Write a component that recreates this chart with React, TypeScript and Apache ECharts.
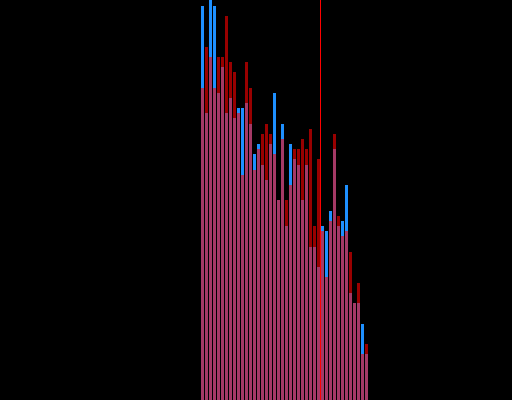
import React, { useEffect, useRef } from "react";
import * as echarts from "echarts";

const categories: string[] = Array.from({ length: 42 }, (_, i) => String(i + 1));

const blueValues: number[] = [
  394, 287, 400, 394, 307, 333, 287, 302, 282, 292, 292, 297, 276, 246,
  256, 235, 220, 256, 307, 200, 276, 174, 256, 241, 235, 200, 235, 153,
  153, 133, 174, 169, 189, 251, 174, 179, 215, 107, 97, 97, 76, 46,
];

const redValues: number[] = [
  312, 353, 343, 312, 343, 343, 384, 338, 328, 287, 225, 338, 312, 230,
  251, 266, 276, 266, 246, 200, 261, 200, 215, 251, 251, 261, 251, 271,
  174, 241, 169, 123, 179, 266, 184, 164, 169, 148, 97, 117, 46, 56,
];

const markerPosition = 30;
const yMax = 400;

export default function App() {
  const ref = useRef<HTMLDivElement>(null);
  useEffect(() => {
    if (!ref.current) return;
    const chart = echarts.init(ref.current, undefined, { renderer: "svg" });
    chart.setOption({
      animation: false,
      backgroundColor: "#000000",
      grid: { left: 200.5, width: 168, top: 0, bottom: 0 },
      xAxis: [
        {
          type: "category",
          data: categories,
          show: false,
          boundaryGap: true,
        },
        {
          type: "value",
          min: 0,
          max: categories.length,
          show: false,
        },
      ],
      yAxis: { type: "value", min: 0, max: yMax, show: false },
      series: [
        {
          type: "bar",
          data: blueValues,
          barWidth: 3,
          barGap: "-100%",
          itemStyle: { color: "#1e90ff" },
          z: 2,
        },
        {
          type: "bar",
          data: redValues,
          barWidth: 3,
          barGap: "-100%",
          itemStyle: { color: "rgba(255,0,0,0.6)" },
          z: 3,
        },
        {
          type: "line",
          xAxisIndex: 1,
          data: [
            [markerPosition, 0],
            [markerPosition, yMax],
          ],
          symbol: "none",
          lineStyle: { color: "#ff0000", width: 1 },
          z: 5,
        },
      ],
    });
    return () => chart.dispose();
  }, []);
  return (
    <div
      ref={ref}
      style={{ position: "fixed", left: 0, top: 0, width: 512, height: 400 }}
    />
  );
}
